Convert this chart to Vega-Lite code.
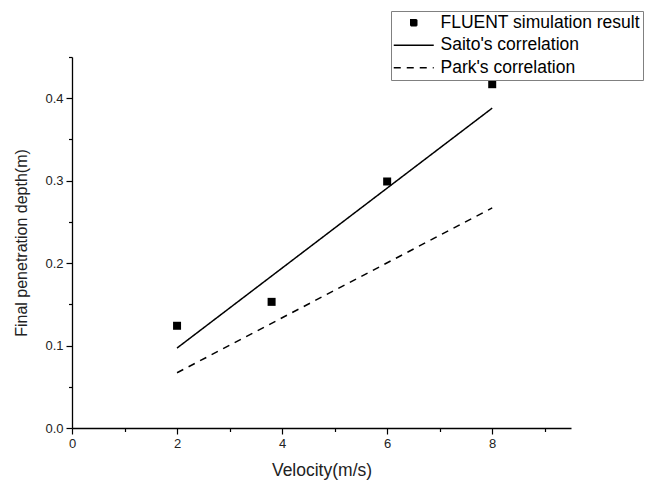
{
  "$schema": "https://vega.github.io/schema/vega-lite/v6.json",
  "width": 499,
  "height": 371,
  "autosize": "none",
  "padding": {"left": 72, "top": 57, "right": 74, "bottom": 58},
  "background": "white",
  "config": {
    "view": {"stroke": null},
    "font": "Liberation Sans",
    "axis": {
      "grid": false,
      "domainColor": "black",
      "domainWidth": 1.3,
      "tickColor": "black",
      "tickWidth": 1.2,
      "labelColor": "#222222",
      "titleColor": "#222222",
      "labelFont": "Liberation Sans",
      "titleFont": "Liberation Sans",
      "labelFontSize": 13,
      "titleFontSize": 16,
      "titleFontWeight": "normal"
    },
    "legend": {
      "symbolOpacity": 1,
      "symbolSize": 64,
      "symbolOffset": 11,
      "labelFont": "Liberation Sans",
      "labelFontSize": 17.5,
      "labelColor": "black",
      "labelOffset": 18,
      "labelLimit": 400,
      "rowPadding": 3.5,
      "padding": 3,
      "strokeColor": "#808080",
      "fillColor": "white"
    }
  },
  "datasets": {
    "sim": [
      {"series": "FLUENT simulation result", "v": 2.0, "d": 0.124},
      {"series": "FLUENT simulation result", "v": 3.8, "d": 0.153},
      {"series": "FLUENT simulation result", "v": 6.0, "d": 0.299},
      {"series": "FLUENT simulation result", "v": 8.0, "d": 0.417}
    ],
    "corr": [
      {"series": "Saito's correlation", "v": 2, "d": 0.097},
      {"series": "Saito's correlation", "v": 8, "d": 0.388},
      {"series": "Park's correlation", "v": 2, "d": 0.067},
      {"series": "Park's correlation", "v": 8, "d": 0.267}
    ]
  },
  "encoding": {
    "x": {
      "field": "v",
      "type": "quantitative",
      "scale": {"domain": [0, 9.5], "nice": false, "zero": false},
      "axis": {
        "title": "Velocity(m/s)",
        "titleFontSize": 17.5,
        "values": [0, 1, 2, 3, 4, 5, 6, 7, 8, 9],
        "labelExpr": "datum.value % 2 === 0 ? datum.label : ''",
        "tickSize": {"condition": {"test": "datum.value % 2 === 0", "value": 6}, "value": 3.5},
        "labelPadding": 3,
        "titlePadding": 11,
        "labelFlush": false,
        "labelOverlap": false
      }
    },
    "y": {
      "field": "d",
      "type": "quantitative",
      "scale": {"domain": [0, 0.45], "nice": false},
      "axis": {
        "title": "Final penetration depth(m)",
        "titleFontSize": 16,
        "values": [0, 0.05, 0.1, 0.15, 0.2, 0.25, 0.3, 0.35, 0.4, 0.45],
        "format": ".1f",
        "labelExpr": "round(datum.value * 20) % 2 === 0 ? datum.label : ''",
        "tickSize": {"condition": {"test": "round(datum.value * 20) % 2 === 0", "value": 6}, "value": 3.5},
        "labelPadding": 3,
        "titlePadding": 15,
        "labelFlush": false,
        "labelOverlap": false
      }
    }
  },
  "layer": [
    {
      "data": {"name": "corr"},
      "mark": {"type": "line", "color": "black", "strokeWidth": 1.5},
      "encoding": {
        "strokeDash": {
          "field": "series",
          "type": "nominal",
          "scale": {
            "domain": ["FLUENT simulation result", "Saito's correlation", "Park's correlation"],
            "range": [[1, 0], [1, 0], [7, 6]]
          },
          "legend": {"title": null, "orient": "none", "legendX": 319, "legendY": -46}
        }
      }
    },
    {
      "data": {"name": "sim"},
      "mark": {"type": "point", "filled": true, "fill": "black", "stroke": "black", "strokeWidth": 1.3, "size": 64, "opacity": 0},
      "encoding": {
        "shape": {
          "field": "series",
          "type": "nominal",
          "scale": {
            "domain": ["FLUENT simulation result", "Saito's correlation", "Park's correlation"],
            "range": [
              "M-0.75,-0.75H0.75V0.75H-0.75Z M-0.75,-0.5H0.75 M-0.75,-0.25H0.75 M-0.75,0H0.75 M-0.75,0.25H0.75 M-0.75,0.5H0.75",
              "M-5,0H5",
              "M-5,0H5"
            ]
          },
          "legend": {"title": null, "orient": "none", "legendX": 319, "legendY": -46}
        }
      }
    },
    {
      "data": {"name": "sim"},
      "mark": {"type": "point", "shape": "square", "filled": true, "color": "black", "size": 64, "opacity": 1}
    }
  ]
}
